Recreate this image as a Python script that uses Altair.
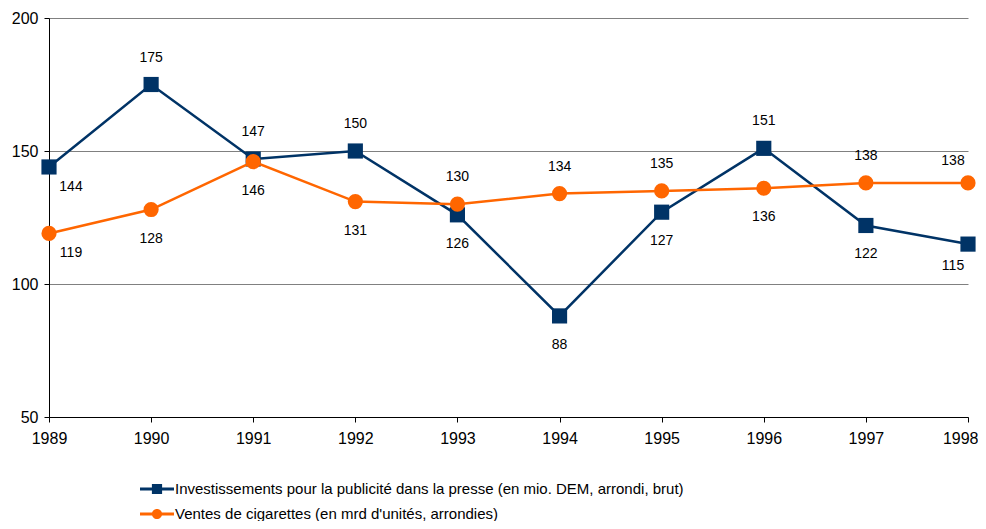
import altair as alt
import pandas as pd

years = [1989, 1990, 1991, 1992, 1993, 1994, 1995, 1996, 1997, 1998]
press_values = [144, 175, 147, 150, 126, 88, 127, 151, 122, 115]
cig_values = [119, 128, 146, 131, 130, 134, 135, 136, 138, 138]
press_label_side = ["below", "above", "above", "above", "below", "below", "below", "above", "below", "below"]
cig_label_side = ["below", "below", "below", "below", "above", "above", "above", "below", "above", "above"]
series_names = [
    "Investissements pour la publicité dans la presse (en mio. DEM, arrondi, brut)",
    "Ventes de cigarettes (en mrd d'unités, arrondies)",
]
y_ticks = [50, 100, 150, 200]

BLUE = "#003366"
ORANGE = "#FF6600"
colors = [BLUE, ORANGE]
FONT = "Liberation Sans"

rows = []
for name, vals, sides in zip(series_names, [press_values, cig_values], [press_label_side, cig_label_side]):
    for yr, v, s in zip(years, vals, sides):
        rows.append({"year": yr, "value": v, "series": name, "side": s})
df = pd.DataFrame(rows)

last_test = "datum.value == %d" % years[-1]
x_enc = alt.X(
    "year:Q",
    scale=alt.Scale(domain=[years[0], years[-1]], nice=False, zero=False),
    axis=alt.Axis(values=years, format="d", title=None, grid=False, labelFontSize=16, labelFont=FONT,
                  labelColor="black", tickColor="black", tickSize=5, domainColor="black",
                  labelPadding=8, labelFlush=False, labelOverlap=False,
                  labelAlign={"condition": {"test": last_test, "value": "right"}, "value": "center"},
                  labelOffset={"condition": {"test": last_test, "value": 10}, "value": 0}),
)
y_enc = alt.Y(
    "value:Q",
    scale=alt.Scale(domain=[50, 200], nice=False, zero=False),
    axis=alt.Axis(values=y_ticks, title=None, grid=True, gridColor="#808080", gridWidth=1,
                  labelFontSize=16, labelFont=FONT, labelColor="black", tickColor="black",
                  tickSize=5, domainColor="black", labelPadding=6),
)

base = alt.Chart(df)
layers = []
for name, color, shape in zip(series_names, colors, ["square", "circle"]):
    sub = base.transform_filter(alt.datum.series == name)
    layers.append(sub.mark_line(color=color, strokeWidth=2.5).encode(x=x_enc, y=y_enc))
    layers.append(sub.mark_point(shape=shape, filled=True, size=230, color=color, opacity=1).encode(x=x_enc, y=y_enc))

text_base = base.transform_calculate(
    end="datum.year == 1989 ? 'first' : (datum.year == 1998 ? 'last' : 'mid')"
)
offsets = {
    ("first", "below"): (22, 20), ("first", "above"): (22, -22),
    ("mid", "below"): (0, 29), ("mid", "above"): (0, -27),
    ("last", "below"): (-15, 22), ("last", "above"): (-15, -22),
}
for (end, side), (dx, dy) in offsets.items():
    layers.append(
        text_base.transform_filter((alt.datum.end == end) & (alt.datum.side == side))
        .mark_text(dx=dx, dy=dy, fontSize=14, font=FONT, color="black", baseline="middle")
        .encode(x=x_enc, y=y_enc, text="value:Q")
    )

sq_path = "M-1,-0.09H1V0.09H-1Z M-0.3,-0.3H0.3V0.3H-0.3Z"
ci_path = "M-1,-0.09H1V0.09H-1Z M-0.3,0A0.3,0.3 0 1,1 0.3,0A0.3,0.3 0 1,1 -0.3,0Z"
legend_props = dict(orient="none", legendX=91, legendY=454, direction="vertical", title=None,
                    symbolSize=1156, symbolOpacity=1, symbolStrokeWidth=0, labelFont=FONT,
                    labelFontSize=15, labelColor="black", labelOffset=1, rowPadding=0,
                    labelLimit=0, padding=0)
layers.append(
    base.mark_point(filled=True, opacity=0).encode(
        x=x_enc, y=y_enc,
        color=alt.Color("series:N", scale=alt.Scale(domain=series_names, range=colors),
                        legend=alt.Legend(**legend_props)),
        shape=alt.Shape("series:N", scale=alt.Scale(domain=series_names, range=[sq_path, ci_path]),
                        legend=alt.Legend(**legend_props)),
    )
)

chart = (
    alt.layer(*layers)
    .properties(width=919, height=399, autosize=alt.AutoSizeParams(type="none"),
                padding={"left": 41, "top": 10, "right": 10, "bottom": 104}, background="white")
    .configure_view(strokeWidth=0)
)
chart.save("out.html", embed_options={"renderer": "svg", "actions": False})
